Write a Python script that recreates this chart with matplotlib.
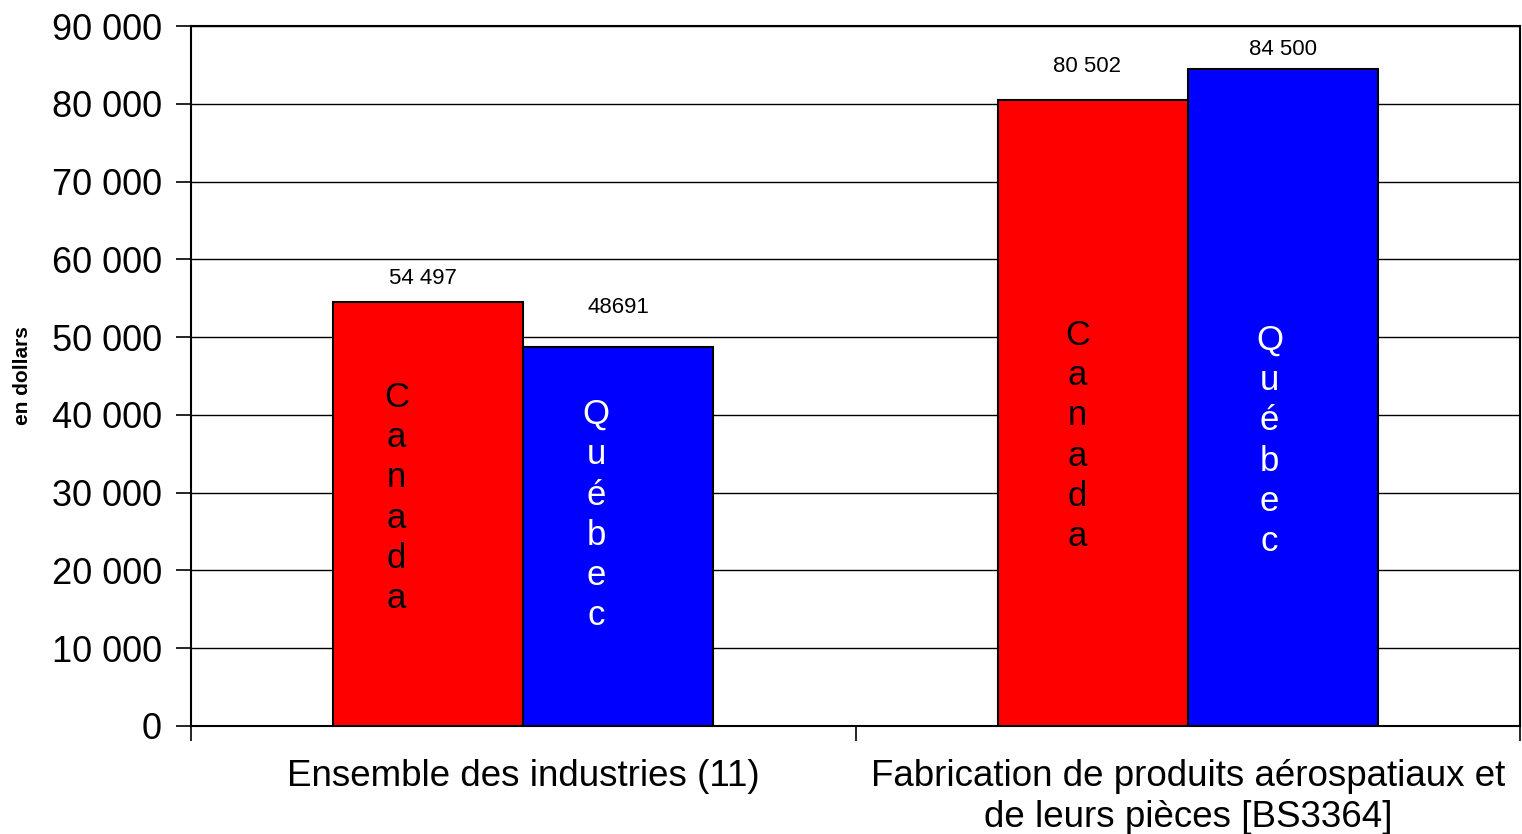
import matplotlib.pyplot as plt
import numpy as np

plt.rcParams['font.family'] = ['Liberation Sans', 'DejaVu Sans']

categories = ["Ensemble des industries (11)",
              "Fabrication de produits aérospatiaux et\nde leurs pièces [BS3364]"]
canada = [54497, 80502]
quebec = [48691, 84500]
canada_labels = ["54 497", "80 502"]
quebec_labels = ["48691", "84 500"]
yticks = [0, 10000, 20000, 30000, 40000, 50000, 60000, 70000, 80000, 90000]
ytick_labels = ["0", "10 000", "20 000", "30 000", "40 000", "50 000",
                "60 000", "70 000", "80 000", "90 000"]

# where the value labels and vertical names sit
canada_label_y = [57600, 84850]
quebec_label_y = [53870, 87040]
canada_name_y = [29300, 37300]
quebec_name_y = [27100, 36650]
canada_name_dx = [-0.048, -0.023]
quebec_name_dx = [-0.033, -0.020]

fig = plt.figure(figsize=(15.22, 8.34), dpi=100)
ax = fig.add_axes([0.1255, 0.1295, 0.8732, 0.8393])

x = np.arange(len(categories))
w = 0.286
ax.bar(x - w / 2, canada, w, color="#ff0000", edgecolor="black", linewidth=1.5, zorder=3)
ax.bar(x + w / 2, quebec, w, color="#0000ff", edgecolor="black", linewidth=1.5, zorder=3)

for i in range(len(categories)):
    ax.text(x[i] - w / 2 - 0.008, canada_label_y[i], canada_labels[i],
            ha="center", va="center", fontsize=16, zorder=4)
    ax.text(x[i] + w / 2, quebec_label_y[i], quebec_labels[i],
            ha="center", va="center", fontsize=16, zorder=4)
    ax.text(x[i] - w / 2 + canada_name_dx[i], canada_name_y[i], "\n".join("Canada"),
            ha="center", va="center", fontsize=25, linespacing=1.28,
            color="black", zorder=4)
    ax.text(x[i] + w / 2 + quebec_name_dx[i], quebec_name_y[i], "\n".join("Québec"),
            ha="center", va="center", fontsize=25, linespacing=1.28,
            color="white", zorder=4)

ax.set_xlim(-0.5, 1.5)
ax.set_ylim(0, 90000)
ax.set_yticks(yticks)
ax.set_yticklabels(ytick_labels, fontsize=26)
ax.yaxis.grid(True, color="black", linewidth=1, zorder=0)

ax.set_xticks([-0.5, 0.5, 1.5])
ax.set_xticklabels([])
ax.set_xticks(x, minor=True)
ax.set_xticklabels(categories, minor=True, fontsize=26.5, linespacing=1.2)
ax.tick_params(axis="x", which="minor", length=0, pad=24)
ax.tick_params(axis="x", which="major", length=11, width=1.2, direction="out")
ax.tick_params(axis="y", length=11, width=1.2, direction="out", pad=10)

for s in ax.spines.values():
    s.set_linewidth(1.5)
    s.set_color("black")

ax.set_ylabel("en dollars", fontsize=15, fontweight="bold", labelpad=14)

fig.savefig("out.png", dpi=100)
